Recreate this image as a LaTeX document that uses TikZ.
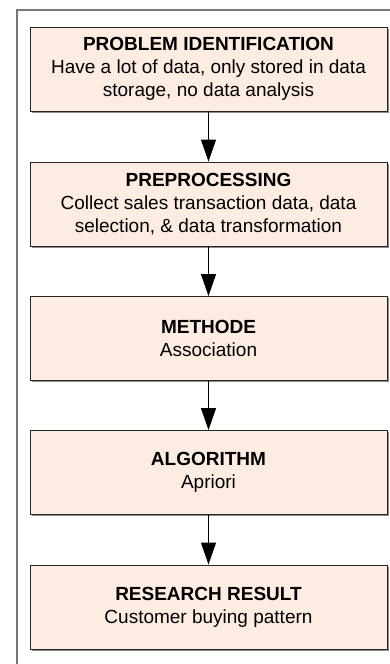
\documentclass[tikz,border=0pt]{standalone}
\usepackage{fontspec}
\setmainfont{Liberation Sans}
\usetikzlibrary{arrows.meta,shadows}
\definecolor{peach}{RGB}{252,236,226}
\definecolor{frameg}{RGB}{120,120,120}
\begin{document}
\begin{tikzpicture}[x=1pt,y=-1pt,
  stage/.style={draw=black!85, line width=0.9pt, fill=peach,
    minimum width=357pt, minimum height=84pt, inner sep=0pt, align=center,
    font=\fontsize{19}{22.8}\selectfont,
    drop shadow={shadow xshift=1.5pt, shadow yshift=-1.5pt, fill=black!45, opacity=1}},
  flow/.style={line width=1pt, -{Triangle[length=22pt,width=15pt]}},
  frame/.style={draw=frameg, line width=1.5pt}]
\useasboundingbox (0,0) rectangle (389,664);
\draw[frame] (17,670) -- (17,10) -- (395,10);
\node[stage] (a) at (208.5,69) {\textbf{PROBLEM IDENTIFICATION}\\Have a lot of data, only stored in data\\storage, no data analysis};
\node[stage] (b) at (208.5,204) {\textbf{PREPROCESSING}\\Collect sales transaction data, data\\selection, \& data transformation};
\node[stage] (c) at (208.5,338.5) {\textbf{METHODE}\\Association};
\node[stage] (d) at (208.5,472.5) {\textbf{ALGORITHM}\\Apriori};
\node[stage] (e) at (208.5,607) {\textbf{RESEARCH RESULT}\\Customer buying pattern};
\draw[flow] (a) -- (b);
\draw[flow] (b) -- (c);
\draw[flow] (c) -- (d);
\draw[flow] (d) -- (e);
\end{tikzpicture}
\end{document}
